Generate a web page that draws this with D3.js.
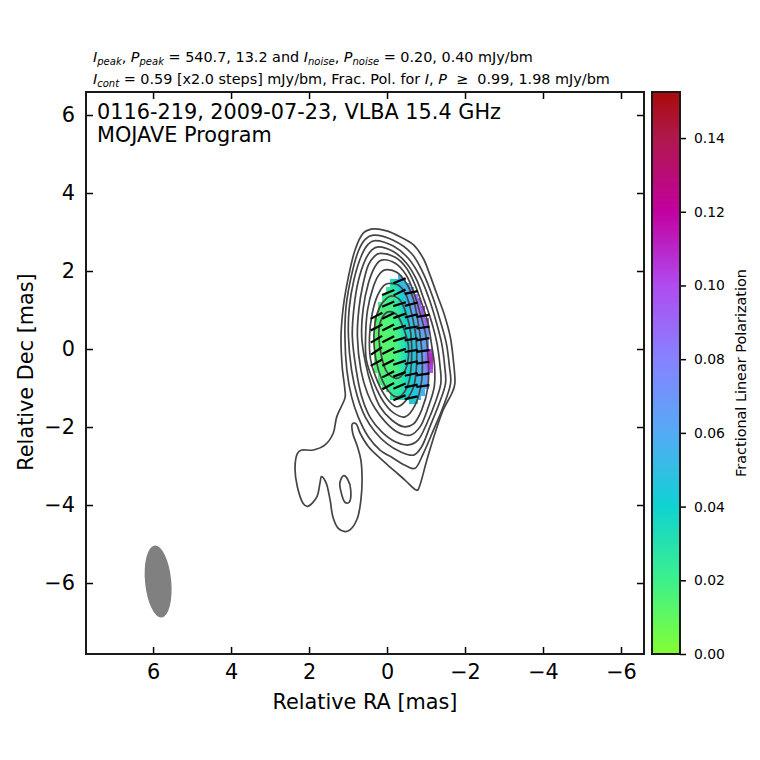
<!DOCTYPE html>
<html>
<head>
<meta charset="utf-8">
<script src="https://cdn.jsdelivr.net/npm/d3@7"></script>
<style>
	html, body { margin: 0; padding: 0; background: #fff; }
	svg { display: block; font-family: "DejaVu Sans", sans-serif; }
	.contour { fill: none; stroke: #444; stroke-width: 1.7; }
	.stick { stroke: #000; stroke-width: 2.2; }
	.axis path, .axis line { stroke: #000; stroke-width: 1.5; }
	.frame { fill: none; stroke: #1a1a1a; stroke-width: 2; }
</style>
</head>
<body>
<svg width="760" height="760"></svg>
<script>
const xTicks = [6, 4, 2, 0, -2, -4, -6];
const yTicks = [6, 4, 2, 0, -2, -4, -6];
const cbTicks = [0, 0.02, 0.04, 0.06, 0.08, 0.1, 0.12, 0.14];

const raRange = [7.72, -6.59];
const decRange = [-7.82, 6.59];

// colormap
const cmapValues = [0, 0.02, 0.04, 0.06, 0.08, 0.1, 0.12, 0.14, 0.1525];
const cmapColors = ["#82ff32", "#3cf08c", "#0fd2d2", "#55aaf5", "#8782ff", "#af4bf0", "#c300a0", "#af194b", "#aa0a0a"];

// stokes I contours, [RA, Dec] in mas, lowest level first
const contourOuter = [[0.35, 3.08], [0.01, 3.03], [-0.33, 2.88], [-0.68, 2.67], [-0.93, 2.32], [-1.1, 1.9], [-1.27, 1.43], [-1.46, 0.91], [-1.62, 0.32], [-1.7, -0.28], [-1.74, -0.88], [-1.66, -1.14], [-1.44, -1.56], [-1.23, -2.16], [-1.02, -2.85], [-0.8, -3.6], [-0.72, -3.6], [-0.46, -3.36], [-0.16, -3.1], [0.18, -2.8], [0.48, -2.5], [0.69, -2.16], [0.79, -1.92], [0.89, -1.92], [0.88, -2.16], [0.76, -2.5], [0.67, -2.85], [0.64, -3.36], [0.67, -3.87], [0.76, -4.34], [0.95, -4.64], [1.08, -4.68], [1.25, -4.6], [1.39, -4.3], [1.46, -3.87], [1.56, -3.44], [1.68, -3.27], [1.72, -3.44], [1.8, -3.79], [2.02, -4.03], [2.15, -3.96], [2.3, -3.53], [2.36, -3.06], [2.3, -2.68], [2.19, -2.59], [1.89, -2.59], [1.59, -2.46], [1.38, -2.16], [1.29, -1.74], [1.08, -1.26], [1.08, -1.05], [1.15, -0.45], [1.18, 0.32], [1.12, 1.09], [0.99, 1.85], [0.82, 2.54], [0.61, 2.97]];
const contourIsland = [[1.12, -3.25], [1.01, -3.34], [0.93, -3.62], [0.97, -3.93], [1.08, -3.93], [1.16, -3.74], [1.21, -3.44]];
const contour2 = [[0.35, 2.92], [-0.16, 2.79], [-0.63, 2.45], [-0.93, 1.94], [-1.17, 1.34], [-1.36, 0.74], [-1.52, 0.15], [-1.6, -0.45], [-1.63, -0.88], [-1.44, -1.48], [-1.19, -2.08], [-0.93, -2.68], [-0.72, -3.06], [-0.5, -3], [-0.16, -2.8], [0.18, -2.59], [0.48, -2.25], [0.74, -1.74], [0.91, -1.22], [1.03, -0.54], [1.08, 0.32], [1.05, 1.09], [0.92, 1.85], [0.74, 2.5], [0.56, 2.81]];
const contour3 = [[0.31, 2.78], [-0.16, 2.64], [-0.55, 2.32], [-0.85, 1.85], [-1.06, 1.34], [-1.25, 0.74], [-1.4, 0.15], [-1.48, -0.45], [-1.5, -0.88], [-1.34, -1.39], [-1.1, -1.99], [-0.89, -2.5], [-0.68, -2.72], [-0.33, -2.63], [0.01, -2.42], [0.31, -2.12], [0.56, -1.74], [0.76, -1.22], [0.91, -0.54], [0.99, 0.32], [0.97, 1.04], [0.85, 1.77], [0.65, 2.41], [0.48, 2.69]];
const contour4 = [[0.22, 2.62], [-0.16, 2.5], [-0.5, 2.2], [-0.76, 1.77], [-0.95, 1.26], [-1.13, 0.74], [-1.28, 0.15], [-1.36, -0.45], [-1.38, -0.88], [-1.23, -1.39], [-1.02, -1.91], [-0.8, -2.33], [-0.55, -2.46], [-0.21, -2.38], [0.14, -2.12], [0.44, -1.74], [0.65, -1.22], [0.79, -0.54], [0.89, 0.32], [0.85, 1.04], [0.74, 1.73], [0.56, 2.28], [0.39, 2.54]];
const contour5 = [[0.18, 2.45], [-0.21, 2.35], [-0.5, 2.07], [-0.72, 1.64], [-0.89, 1.17], [-1.05, 0.66], [-1.15, 0.06], [-1.22, -0.45], [-1.21, -0.97], [-1.06, -1.48], [-0.85, -1.99], [-0.59, -2.21], [-0.25, -2.12], [0.05, -1.86], [0.31, -1.52], [0.5, -1.14], [0.67, -0.54], [0.76, 0.32], [0.72, 1.04], [0.62, 1.64], [0.48, 2.15], [0.33, 2.37]];
const contour6 = [[0.14, 2.28], [-0.21, 2.2], [-0.49, 1.9], [-0.68, 1.47], [-0.85, 0.91], [-1, 0.32], [-1.06, -0.37], [-1.05, -0.97], [-0.89, -1.56], [-0.68, -1.92], [-0.42, -1.99], [-0.12, -1.82], [0.18, -1.48], [0.39, -0.97], [0.55, -0.37], [0.65, 0.32], [0.61, 1.04], [0.48, 1.68], [0.31, 2.11]];
const contour7 = [[0.05, 2.03], [-0.25, 1.97], [-0.5, 1.68], [-0.68, 1.26], [-0.8, 0.66], [-0.89, -0.03], [-0.89, -0.79], [-0.72, -1.44], [-0.46, -1.74], [-0.16, -1.63], [0.09, -1.35], [0.33, -0.88], [0.53, -0.28], [0.55, 0.32], [0.5, 1], [0.35, 1.6], [0.21, 1.9]];
const contour8 = [[-0.03, 1.68], [-0.29, 1.64], [-0.49, 1.38], [-0.63, 0.91], [-0.74, 0.32], [-0.76, -0.37], [-0.68, -0.97], [-0.46, -1.35], [-0.25, -1.48], [0.01, -1.26], [0.26, -0.79], [0.42, -0.28], [0.45, 0.32], [0.38, 0.91], [0.24, 1.38], [0.09, 1.62]];
const contour9 = [[-0.12, 1.36], [-0.33, 1.26], [-0.49, 0.91], [-0.61, 0.4], [-0.63, -0.28], [-0.55, -0.88], [-0.38, -1.18], [-0.21, -1.22], [0.01, -1.01], [0.22, -0.54], [0.33, 0.06], [0.31, 0.66], [0.18, 1.09], [0.01, 1.3]];
const contour10 = [[-0.08, 0.96], [-0.26, 0.87], [-0.44, 0.49], [-0.55, 0.06], [-0.5, -0.45], [-0.35, -0.71], [-0.21, -0.75], [0.01, -0.58], [0.14, -0.2], [0.21, 0.32], [0.18, 0.66], [0.05, 0.91]];
const contourList = [contourOuter, contourIsland, contour2, contour3, contour4, contour5, contour6, contour7, contour8, contour9, contour10];

// fractional polarization cells, 0.1 mas pixels, values x 1000
const cellRa = [0.28, 0.18, 0.08, -0.02, -0.12, -0.22, -0.32, -0.42, -0.52, -0.62, -0.72, -0.82, -0.92, -1.02, -1.12];
const cellDec = [1.85, 1.75, 1.65, 1.55, 1.45, 1.35, 1.25, 1.15, 1.05, 0.95, 0.85, 0.75, 0.65, 0.55, 0.45, 0.35, 0.25, 0.15, 0.05, -0.05, -0.15, -0.25, -0.35, -0.45, -0.55, -0.65, -0.75, -0.85, -0.95, -1.05, -1.15, -1.25, -1.35];
const cellStart = [6, 4, 4, 3, 3, 2, 2, 1, 1, 1, 1, 0, 0, 0, 0, 0, 0, 0, 0, 0, 0, 0, 0, 0, 0, 1, 1, 1, 2, 3, 4, 4, 9];
const cellPol = [
	[62],
	[34, 38, 44, 52],
	[28, 33, 42, 50, 58],
	[24, 26, 31, 40, 48, 56, 66],
	[22, 24, 28, 38, 46, 54, 70],
	[20, 21, 23, 26, 35, 44, 52, 64, 82],
	[19, 20, 22, 25, 33, 42, 50, 60, 74, 90],
	[18, 18, 19, 21, 24, 31, 39, 48, 58, 72, 92],
	[17, 17, 18, 20, 23, 30, 37, 46, 56, 68, 82, 98],
	[16, 16, 17, 19, 22, 28, 36, 45, 54, 66, 80, 98],
	[15, 15, 16, 18, 21, 27, 35, 44, 52, 62, 76, 96],
	[14, 14, 14, 15, 17, 20, 26, 34, 42, 50, 58, 68, 84, 98],
	[14, 14, 14, 15, 16, 19, 25, 33, 41, 48, 56, 64, 76, 90],
	[13, 13, 14, 14, 16, 19, 24, 32, 40, 46, 53, 60, 68, 80],
	[13, 13, 13, 14, 15, 18, 23, 31, 39, 45, 51, 57, 64, 72],
	[13, 13, 13, 14, 15, 18, 23, 30, 38, 44, 50, 55, 62, 70],
	[13, 13, 13, 13, 14, 17, 22, 29, 37, 43, 49, 54, 61, 68],
	[12, 13, 13, 13, 14, 17, 22, 29, 36, 43, 48, 54, 60, 70],
	[12, 13, 13, 13, 14, 17, 22, 29, 36, 42, 48, 54, 62, 74],
	[12, 13, 13, 13, 14, 17, 22, 29, 36, 42, 48, 55, 64, 84, 104],
	[13, 13, 13, 13, 14, 17, 22, 29, 36, 42, 48, 55, 66, 88, 108],
	[13, 13, 13, 13, 14, 17, 22, 29, 36, 42, 48, 56, 68, 90, 110],
	[13, 13, 13, 14, 15, 18, 23, 29, 36, 42, 48, 56, 68, 90, 108],
	[14, 14, 14, 14, 15, 18, 23, 29, 36, 42, 48, 56, 66, 86, 104],
	[15, 15, 15, 15, 16, 18, 23, 29, 36, 42, 48, 55, 64, 80, 96],
	[16, 16, 16, 17, 19, 23, 29, 36, 42, 48, 54, 62, 74],
	[17, 17, 17, 18, 20, 23, 29, 36, 41, 47, 53, 60, 70],
	[18, 18, 18, 19, 21, 24, 29, 36, 41, 46, 52, 58, 66],
	[19, 19, 20, 22, 25, 30, 36, 41, 46, 51, 57, 64],
	[21, 22, 23, 26, 30, 36, 41, 46, 51, 58],
	[23, 25, 28, 32, 37, 41, 46, 50, 56],
	[26, 27, 30, 34, 38, 42, 46, 52],
	[44, 48]
];

// polarization sticks: [RA, Dec, EVPA deg]
const sticks = [
	[0.27, 0.85, -63], [0.27, 0.55, -63], [0.27, 0.25, -59], [0.27, -0.05, -56], [0.27, -0.35, -61],
	[-0.03, 1.45, -68], [-0.03, 1.15, -66], [-0.03, 0.85, -65], [-0.03, 0.55, -63], [-0.03, 0.25, -63], [-0.03, -0.05, -63], [-0.03, -0.35, -63], [-0.03, -0.65, -63], [-0.03, -0.95, -62],
	[-0.32, 1.75, -67], [-0.32, 1.45, -64], [-0.32, 1.15, -73], [-0.32, 0.85, -70], [-0.32, 0.55, -72], [-0.32, 0.25, -73], [-0.32, -0.05, -72], [-0.32, -0.35, -72], [-0.32, -0.65, -70], [-0.32, -0.95, -67], [-0.32, -1.25, -67],
	[-0.62, 1.45, -78], [-0.62, 1.15, -75], [-0.62, 0.85, -76], [-0.62, 0.55, -81], [-0.62, 0.25, -81], [-0.62, -0.05, -81], [-0.62, -0.35, -78], [-0.62, -0.65, -78], [-0.62, -0.95, -78], [-0.62, -1.25, -78],
	[-0.92, 0.85, -82], [-0.92, 0.55, -82], [-0.92, 0.25, -80], [-0.92, -0.05, -82], [-0.92, -0.35, -82], [-0.92, -0.65, -82], [-0.92, -0.95, -82]
];
const stickLength = 0.34;

// beam, mas and degrees
const beamRa = 5.87;
const beamDec = -5.96;
const beamMajor = 0.926;
const beamMinor = 0.336;
const beamPa = 5.5;

const headerLine1 = [
	["I", "i"], ["peak", "s"], [", ", ""], ["P", "i"], ["peak", "s"], [" = 540.7, 13.2 and ", ""],
	["I", "i"], ["noise", "s"], [", ", ""], ["P", "i"], ["noise", "s"], [" = 0.20, 0.40 mJy/bm", ""]
];
const headerLine2 = [
	["I", "i"], ["cont", "s"], [" = 0.59 [x2.0 steps] mJy/bm, Frac. Pol. for ", ""],
	["I", "i"], [", ", ""], ["P", "i"], [" \u00a0≥\u00a0 0.99, 1.98 mJy/bm", ""]
];
const titleLines = ["0116-219, 2009-07-23, VLBA 15.4 GHz", "MOJAVE Program"];

const svg = d3.select("svg");
svg.append("rect").attr("width", 760).attr("height", 760).attr("fill", "#fff");

const x = d3.scaleLinear().domain(raRange).range([86, 644]);
const y = d3.scaleLinear().domain(decRange).range([654, 92]);
const color = d3.scaleLinear().domain(cmapValues).range(cmapColors);
const cbY = d3.scaleLinear().domain([0, 0.1525]).range([654, 92]);

// pol image
cellPol.forEach((row, i) => {
	svg.append("g")
		.attr("shape-rendering", "crispEdges")
		.selectAll("rect")
		.data(row)
		.join("rect")
		.attr("x", (d, j) => x(cellRa[j + cellStart[i]] + 0.05))
		.attr("y", y(cellDec[i] + 0.05))
		.attr("width", x(-0.1) - x(0) + 0.5)
		.attr("height", y(0) - y(0.1) + 0.5)
		.attr("fill", (d) => color(d / 1000));
});

// contours
const line = d3.line()
	.x((d) => x(d[0]))
	.y((d) => y(d[1]))
	.curve(d3.curveCatmullRomClosed.alpha(0.3));

svg.selectAll(".contour")
	.data(contourList)
	.join("path")
	.attr("class", "contour")
	.attr("d", line);

// sticks, evpa measured from north through east
svg.selectAll(".stick")
	.data(sticks)
	.join("line")
	.attr("class", "stick")
	.attr("x1", (d) => x(d[0] - (stickLength / 2) * Math.sin((d[2] * Math.PI) / 180)))
	.attr("y1", (d) => y(d[1] - (stickLength / 2) * Math.cos((d[2] * Math.PI) / 180)))
	.attr("x2", (d) => x(d[0] + (stickLength / 2) * Math.sin((d[2] * Math.PI) / 180)))
	.attr("y2", (d) => y(d[1] + (stickLength / 2) * Math.cos((d[2] * Math.PI) / 180)));

// beam
svg.append("ellipse")
	.attr("cx", 0)
	.attr("cy", 0)
	.attr("rx", x(0) - x(beamMinor))
	.attr("ry", y(0) - y(beamMajor))
	.attr("fill", "#808080")
	.attr("transform", `translate(${x(beamRa)},${y(beamDec)}) rotate(${-beamPa})`);

// axes, ticks point inward on all four sides
const axisSides = [
	{ axis: d3.axisBottom(x).tickValues(xTicks).tickSize(-7).tickPadding(10).tickFormat(d3.format("d")), at: [0, 654] },
	{ axis: d3.axisTop(x).tickValues(xTicks).tickSize(-7).tickFormat(""), at: [0, 92] },
	{ axis: d3.axisLeft(y).tickValues(yTicks).tickSize(-7).tickPadding(11).tickFormat(d3.format("d")), at: [86, 0] },
	{ axis: d3.axisRight(y).tickValues(yTicks).tickSize(-7).tickFormat(""), at: [644, 0] }
];
axisSides.forEach((s) => {
	const g = svg.append("g")
		.attr("class", "axis")
		.attr("transform", `translate(${s.at[0]},${s.at[1]})`)
		.call(s.axis);
	g.select(".domain").remove();
	g.selectAll("text").attr("font-size", 20.8).attr("font-family", "DejaVu Sans").attr("fill", "#000");
});
svg.append("rect")
	.attr("class", "frame")
	.attr("x", 86)
	.attr("y", 92)
	.attr("width", 558)
	.attr("height", 562);

// colorbar
const cbStrip = d3.range(0, 0.1525, 0.0005);
svg.append("g")
	.attr("shape-rendering", "crispEdges")
	.selectAll("rect")
	.data(cbStrip)
	.join("rect")
	.attr("x", 652)
	.attr("width", 28)
	.attr("y", (d) => cbY(d + 0.0005))
	.attr("height", cbY(0) - cbY(0.0005) + 0.5)
	.attr("fill", (d) => color(d));

const cbAxis = svg.append("g")
	.attr("class", "axis")
	.attr("transform", "translate(680,0)")
	.call(d3.axisRight(cbY).tickValues(cbTicks).tickSize(6).tickPadding(8).tickFormat(d3.format(".2f")));
cbAxis.select(".domain").remove();
cbAxis.selectAll("text").attr("font-size", 13.9).attr("font-family", "DejaVu Sans").attr("fill", "#000");

svg.append("rect")
	.attr("class", "frame")
	.attr("x", 652)
	.attr("y", 92)
	.attr("width", 28)
	.attr("height", 562);

svg.append("text")
	.attr("transform", "translate(746,373) rotate(-90)")
	.attr("text-anchor", "middle")
	.attr("font-size", 14.4)
	.text("Fractional Linear Polarization");

// labels
svg.append("text")
	.attr("x", 365)
	.attr("y", 709)
	.attr("text-anchor", "middle")
	.attr("font-size", 20.8)
	.text("Relative RA [mas]");

svg.append("text")
	.attr("transform", "translate(33,372) rotate(-90)")
	.attr("text-anchor", "middle")
	.attr("font-size", 20.8)
	.text("Relative Dec [mas]");

titleLines.forEach((t, i) => {
	svg.append("text")
		.attr("x", 97)
		.attr("y", 119 + i * 23)
		.attr("font-size", 20.8)
		.text(t);
});

// header lines with italic symbols and subscripts
const drawHeader = (segments, yPos) => {
	const text = svg.append("text").attr("x", 93).attr("y", yPos).attr("font-size", 14.4);
	let shifted = false;
	segments.forEach((s) => {
		const span = text.append("tspan").text(s[0]).style("white-space", "pre");
		if (s[1] != "") span.attr("font-style", "italic");
		if (s[1] == "s") {
			span.attr("font-size", 10).attr("dy", 3);
			shifted = true;
		} else if (shifted) {
			span.attr("dy", -3);
			shifted = false;
		}
	});
	text.attr("xml:space", "preserve");
};
drawHeader(headerLine1, 62);
drawHeader(headerLine2, 84);
</script>
</body>
</html>
